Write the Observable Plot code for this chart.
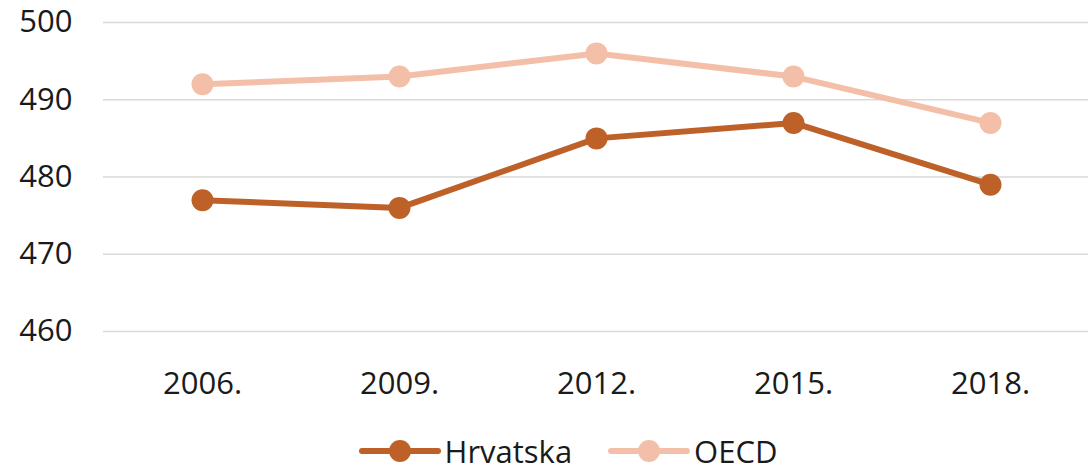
<!DOCTYPE html>
<html>
<head>
<meta charset="utf-8">
<script src="https://cdn.jsdelivr.net/npm/d3@7"></script>
<script src="https://cdn.jsdelivr.net/npm/@observablehq/plot@0.6"></script>
<style>
  html, body { margin: 0; padding: 0; background: #fff; }
  body { width: 1091px; height: 472px; overflow: hidden; font-family: "Open Sans", sans-serif; }
  #legend { display: flex; justify-content: center; align-items: center; height: 42px; padding-left: 45px; box-sizing: border-box; font-size: 31px; color: #1a1a1a; }
  .item { display: flex; align-items: center; }
  .item svg { display: block; }
</style>
</head>
<body>
<div id="chart"></div>
<div id="legend"></div>
<script>
const years = ["2006.", "2009.", "2012.", "2015.", "2018."];
const hrvatska = [477, 476, 485, 487, 479];
const oecd = [492, 493, 496, 493, 487];
const seriesNames = ["Hrvatska", "OECD"];
const seriesColors = ["#BE6128", "#F4BFA8"];
const yTicks = [460, 470, 480, 490, 500];

const data = [];
years.forEach((y, i) => {
  data.push({year: y, value: hrvatska[i], series: seriesNames[0]});
  data.push({year: y, value: oecd[i], series: seriesNames[1]});
});

const chart = Plot.plot({
  width: 1091,
  height: 430,
  marginTop: 22,
  marginBottom: 99,
  marginLeft: 103,
  marginRight: 3,
  style: { fontFamily: "Open Sans, sans-serif", fontSize: "31px", color: "#1a1a1a", background: "#fff" },
  x: { type: "point", domain: years, padding: 0.5, label: null },
  y: { domain: [460, 500], ticks: yTicks, label: null },
  color: { domain: seriesNames, range: seriesColors },
  marks: [
    Plot.gridY(yTicks, { stroke: "#d9d9d9", strokeOpacity: 1, strokeWidth: 1.5 }),
    Plot.axisY(yTicks, { tickSize: 0, tickPadding: 31, fontSize: 31, label: null }),
    Plot.axisX({ tickSize: 0, tickPadding: 40, fontSize: 31, label: null }),
    Plot.line(data, { x: "year", y: "value", z: "series", stroke: "series", strokeWidth: 6, strokeLinejoin: "round", strokeLinecap: "round" }),
    Plot.dot(data, { x: "year", y: "value", fill: "series", r: 11 })
  ]
});
document.getElementById("chart").appendChild(chart);

const legend = document.getElementById("legend");
seriesNames.forEach((name, i) => {
  const item = document.createElement("div");
  item.className = "item";
  item.style.marginRight = i === 0 ? "36px" : "0";
  item.innerHTML = `<svg width="82" height="26"><line x1="3" y1="13" x2="79" y2="13" stroke="${seriesColors[i]}" stroke-width="6" stroke-linecap="round"/><circle cx="41" cy="13" r="11" fill="${seriesColors[i]}"/></svg><span style="margin-left:4px">${name}</span>`;
  legend.appendChild(item);
});
</script>
</body>
</html>
